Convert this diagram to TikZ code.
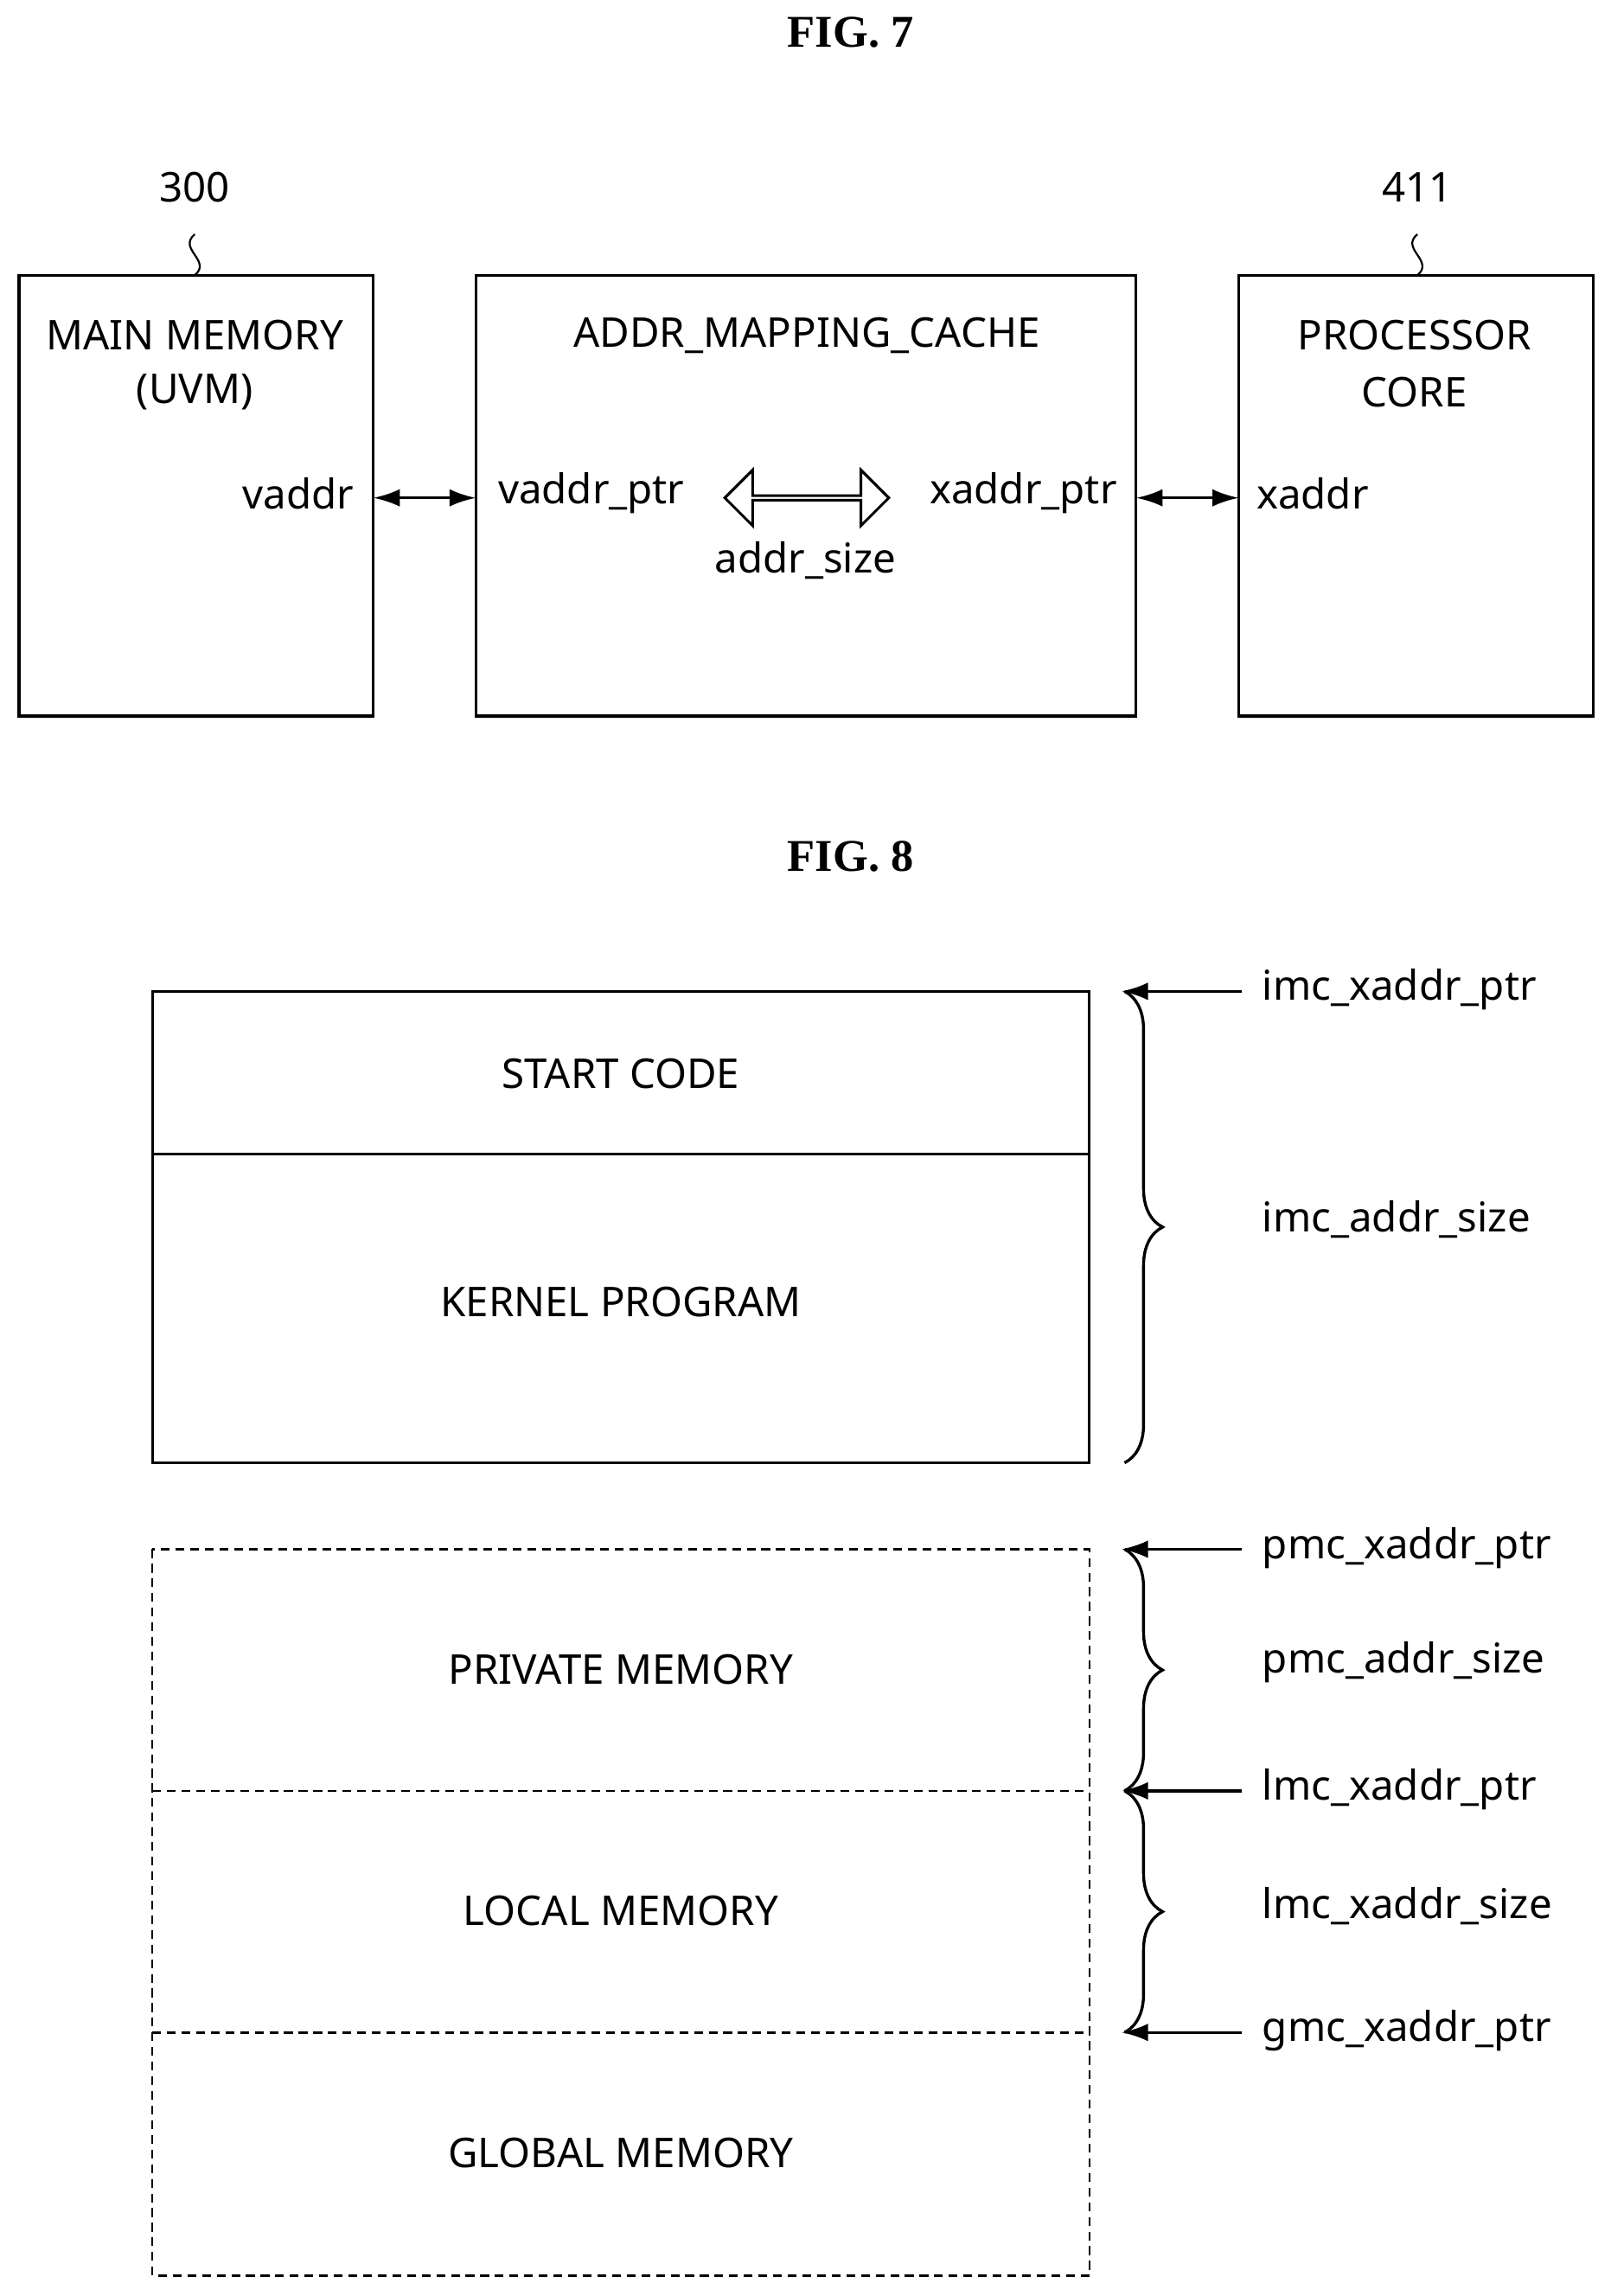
\documentclass[tikz,border=0pt]{standalone}
\usepackage{fontspec}
\setmainfont{Noto Sans}
\newfontfamily\figfont{Liberation Serif}
\usetikzlibrary{arrows.meta,shapes.arrows,decorations.pathreplacing}
\begin{document}
\begin{tikzpicture}[x=1pt,y=-1pt,
  box/.style={draw,line width=1.8pt},
  dbox/.style={draw,line width=1.5pt,dash pattern=on 6pt off 4pt},
  t/.style={font=\fontsize{28}{34}\selectfont,inner sep=0pt},
  fig/.style={font=\figfont\bfseries\fontsize{31}{36}\selectfont,inner sep=0pt},
  ar/.style={line width=2pt,{Latex[length=18pt,width=12pt]}-{Latex[length=18pt,width=12pt]}},
  pa/.style={line width=2pt,-{Latex[length=18pt,width=12pt]}},
  br/.style={line width=2pt,decorate,decoration={brace,amplitude=26pt,aspect=0.5}}]
\useasboundingbox (0,0) rectangle (1100,1568);
\node[fig] (f7) at (581,22) {FIG. 7};
\node[fig] (f8) at (581,585) {FIG. 8};
% FIG 7
\draw[box] (13,188) rectangle (255,489);
\draw[box] (325,188) rectangle (776,489);
\draw[box] (846,188) rectangle (1088,489);
\node[t] (n300) at (133,128) {300};
\node[t] (n411) at (968,128) {411};
\draw[line width=1.3pt] (133,160) .. controls (121,170) and (145,178) .. (133,188);
\draw[line width=1.3pt] (968,160) .. controls (956,170) and (980,178) .. (968,188);
\node[t] at (133,229) {MAIN MEMORY};
\node[t] at (133,268) {(UVM)};
\node[t] at (551,229) {ADDR\_MAPPING\_CACHE};
\node[t] at (966,229) {PROCESSOR};
\node[t] at (966,268) {CORE};
\node[t,anchor=east] (va) at (242,337) {vaddr};
\node[t,anchor=west] (vp) at (340,337) {vaddr\_ptr};
\node[t,anchor=east] (xp) at (763,337) {xaddr\_ptr};
\node[t,anchor=west] (xa) at (858,337) {xaddr};
\coordinate (a1) at (255,340); \coordinate (a2) at (325,340);
\coordinate (b1) at (776,340); \coordinate (b2) at (846,340);
\draw[ar] (a1) -- (a2);
\draw[ar] (b1) -- (b2);
\node[draw,line width=1.8pt,double arrow,minimum width=38pt,minimum height=112pt,double arrow head extend=10pt,double arrow head indent=0pt,inner sep=0pt] (da) at (551,340) {};
\node[t] at (550,383) {addr\_size};
% FIG 8
\draw[box] (104,677) rectangle (744,999);
\draw[box] (104,788) -- (744,788);
\node[t] at (424,733) {START CODE};
\node[t] at (424,889) {KERNEL PROGRAM};
\draw[dbox] (104,1058) rectangle (744,1554);
\draw[dbox] (104,1223) -- (744,1223);
\draw[dbox] (104,1388) -- (744,1388);
\node[t] at (424,1140) {PRIVATE MEMORY};
\node[t] at (424,1305) {LOCAL MEMORY};
\node[t] at (424,1470) {GLOBAL MEMORY};
\foreach \y/\l in {677/imc\_xaddr\_ptr,1058/pmc\_xaddr\_ptr,1223/lmc\_xaddr\_ptr,1388/gmc\_xaddr\_ptr}{
  \coordinate (s) at (848,\y); \coordinate (e) at (766,\y);
  \draw[pa] (s) -- (e);
  \node[t,anchor=west] at (862,\y-1) {\l};
}
\draw[br] (768,677) -- (768,999);
\draw[br] (768,1058) -- (768,1223);
\draw[br] (768,1223) -- (768,1388);
\node[t,anchor=west] at (862,833) {imc\_addr\_size};
\node[t,anchor=west] at (862,1135) {pmc\_addr\_size};
\node[t,anchor=west] at (862,1302) {lmc\_xaddr\_size};
\end{tikzpicture}
\end{document}
